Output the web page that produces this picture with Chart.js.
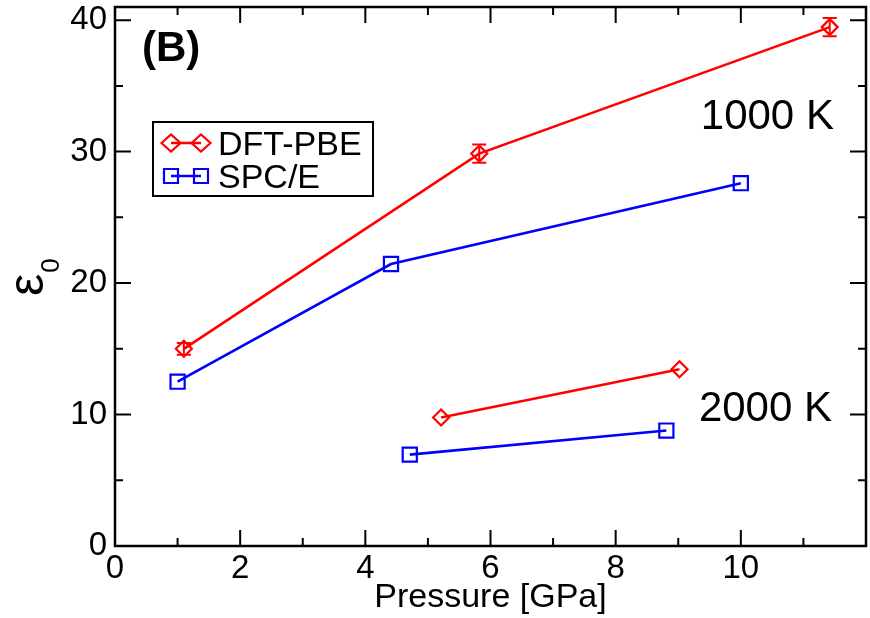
<!DOCTYPE html>
<html>
<head>
<meta charset="utf-8">
<script src="https://cdn.jsdelivr.net/npm/chart.js@4.4.0/dist/chart.umd.min.js"></script>
<style>
  html, body { margin: 0; padding: 0; background: #fff; }
  #wrap { width: 870px; height: 618px; }
</style>
</head>
<body>
<div id="wrap"><canvas id="myChart" width="870" height="618"></canvas></div>
<script>
// data (pressure in GPa, static dielectric constant)
const dftP1000 = [1.1, 5.82, 11.42];
const dftE1000 = [15.0, 29.85, 39.47];
const dftErr1000 = [0.45, 0.7, 0.7];
const spcP1000 = [1.0, 4.41, 10.0];
const spcE1000 = [12.5, 21.45, 27.6];
const dftP2000 = [5.21, 9.02];
const dftE2000 = [9.77, 13.45];
const spcP2000 = [4.71, 8.81];
const spcE2000 = [6.95, 8.78];

const xTicks = [0, 2, 4, 6, 8, 10];
const yTicks = [0, 10, 20, 30, 40];
const seriesNames = ["DFT-PBE", "SPC/E"];

const FONT = "'Liberation Sans', Arial, Helvetica, sans-serif";
const RED = "#ff0000";
const BLUE = "#0000ff";

function pts(xs, ys) {
  return xs.map((x, i) => ({ x: x, y: ys[i] }));
}

function lineSet(label, xs, ys, color, style, r) {
  return {
    label: label,
    data: pts(xs, ys),
    showLine: true,
    borderColor: color,
    backgroundColor: "rgba(0,0,0,0)",
    borderWidth: 2.6,
    pointStyle: style,
    pointRadius: r,
    pointBorderWidth: 2.2,
    pointBorderColor: color,
    pointBackgroundColor: "rgba(0,0,0,0)",
  };
}

function marker(ctx, style, x, y, color) {
  ctx.save();
  ctx.strokeStyle = color;
  ctx.lineWidth = 2.2;
  ctx.beginPath();
  if (style === "rectRot") {
    ctx.moveTo(x - 9.5, y);
    ctx.lineTo(x, y - 8.5);
    ctx.lineTo(x + 9.5, y);
    ctx.lineTo(x, y + 8.5);
    ctx.closePath();
  } else {
    ctx.rect(x - 7, y - 7, 14, 14);
  }
  ctx.stroke();
  ctx.restore();
}

const frame = {
  id: "frame",
  afterDatasetsDraw(chart) {
    const ctx = chart.ctx;
    const xs = chart.scales.x;
    const ys = chart.scales.y;
    const a = chart.chartArea;

    // error bars on DFT-PBE 1000 K
    ctx.save();
    ctx.strokeStyle = RED;
    ctx.lineWidth = 2;
    dftP1000.forEach((p, i) => {
      const px = xs.getPixelForValue(p);
      const top = ys.getPixelForValue(dftE1000[i] + dftErr1000[i]);
      const bot = ys.getPixelForValue(dftE1000[i] - dftErr1000[i]);
      ctx.beginPath();
      ctx.moveTo(px, top); ctx.lineTo(px, bot);
      ctx.moveTo(px - 7, top); ctx.lineTo(px + 7, top);
      ctx.moveTo(px - 7, bot); ctx.lineTo(px + 7, bot);
      ctx.stroke();
    });
    ctx.restore();

    // box and inward ticks
    ctx.save();
    ctx.strokeStyle = "#000";
    ctx.lineWidth = 2.5;
    ctx.strokeRect(a.left, a.top, a.right - a.left, a.bottom - a.top);
    ctx.lineWidth = 2;
    ctx.beginPath();
    for (let v = 1; v < 12; v++) {
      const px = xs.getPixelForValue(v);
      const len = v % 2 === 0 ? 16 : 8;
      ctx.moveTo(px, a.bottom); ctx.lineTo(px, a.bottom - len);
      ctx.moveTo(px, a.top); ctx.lineTo(px, a.top + len);
    }
    for (let v = 5; v <= 40; v += 5) {
      const py = ys.getPixelForValue(v);
      const len = v % 10 === 0 ? 16 : 8;
      ctx.moveTo(a.left, py); ctx.lineTo(a.left + len, py);
      ctx.moveTo(a.right, py); ctx.lineTo(a.right - len, py);
    }
    ctx.stroke();
    ctx.restore();

    // y axis title: epsilon with subscript 0, rotated
    ctx.save();
    ctx.fillStyle = "#000";
    ctx.translate(43, 296);
    ctx.rotate(-Math.PI / 2);
    ctx.textBaseline = "alphabetic";
    ctx.font = "50px " + FONT;
    ctx.fillText("ε", 0, 0);
    const w = ctx.measureText("ε").width;
    ctx.font = "26px " + FONT;
    ctx.fillText("0", w + 1, 16);
    ctx.restore();

    // annotations
    ctx.save();
    ctx.fillStyle = "#000";
    ctx.textBaseline = "alphabetic";
    ctx.font = "bold 42px " + FONT;
    ctx.fillText("(B)", xs.getPixelForValue(0.43), ys.getPixelForValue(36.9));
    ctx.font = "42px " + FONT;
    ctx.fillText("1000 K", xs.getPixelForValue(9.36), ys.getPixelForValue(31.7));
    ctx.fillText("2000 K", xs.getPixelForValue(9.33), ys.getPixelForValue(9.5));
    ctx.restore();

    // legend box
    ctx.save();
    ctx.strokeStyle = "#000";
    ctx.lineWidth = 2;
    ctx.strokeRect(153, 122, 220, 74);
    const rows = [
      { y: 143, color: RED, style: "rectRot", base: 155 },
      { y: 176, color: BLUE, style: "rect", base: 188 },
    ];
    rows.forEach((r, i) => {
      ctx.strokeStyle = r.color;
      ctx.lineWidth = 2.5;
      ctx.beginPath();
      ctx.moveTo(171, r.y); ctx.lineTo(201, r.y);
      ctx.stroke();
      marker(ctx, r.style, 171, r.y, r.color);
      marker(ctx, r.style, 201, r.y, r.color);
      ctx.fillStyle = "#000";
      ctx.font = "34px " + FONT;
      ctx.fillText(seriesNames[i], 218, r.base);
    });
    ctx.restore();
  },
};

const ctx = document.getElementById("myChart");
const myChart = new Chart(ctx, {
  type: "scatter",
  data: {
    datasets: [
      lineSet("DFT-PBE", dftP1000, dftE1000, RED, "rectRot", 8),
      lineSet("SPC/E", spcP1000, spcE1000, BLUE, "rect", 10),
      lineSet("DFT-PBE 2000 K", dftP2000, dftE2000, RED, "rectRot", 8),
      lineSet("SPC/E 2000 K", spcP2000, spcE2000, BLUE, "rect", 10),
    ],
  },
  options: {
    responsive: false,
    animation: false,
    layout: { autoPadding: false, padding: { top: 7, right: 4, left: 0, bottom: 0 } },
    plugins: {
      legend: { display: false },
      tooltip: { enabled: false },
    },
    scales: {
      x: {
        type: "linear",
        min: 0,
        max: 12,
        grid: { display: false, drawTicks: false, tickLength: 0 },
        border: { display: false },
        afterBuildTicks: (s) => {
          s.ticks = xTicks.map((v) => ({ value: v }));
        },
        afterFit: (s) => {
          s.height = 72;
          s.paddingLeft = 0;
          s.paddingRight = 0;
        },
        ticks: {
          padding: 3,
          color: "#000",
          font: { family: FONT, size: 33 },
        },
        title: {
          display: true,
          text: "Pressure [GPa]",
          color: "#000",
          font: { family: FONT, size: 34 },
          padding: { top: 0, bottom: 0 },
        },
      },
      y: {
        type: "linear",
        min: 0,
        max: 41,
        grid: { display: false, drawTicks: false, tickLength: 0 },
        border: { display: false },
        afterBuildTicks: (s) => {
          s.ticks = yTicks.map((v) => ({ value: v }));
        },
        afterFit: (s) => {
          s.width = 115;
          s.paddingTop = 0;
          s.paddingBottom = 0;
        },
        ticks: {
          padding: 8,
          color: "#000",
          font: { family: FONT, size: 33 },
        },
      },
    },
  },
  plugins: [frame],
});
</script>
</body>
</html>
